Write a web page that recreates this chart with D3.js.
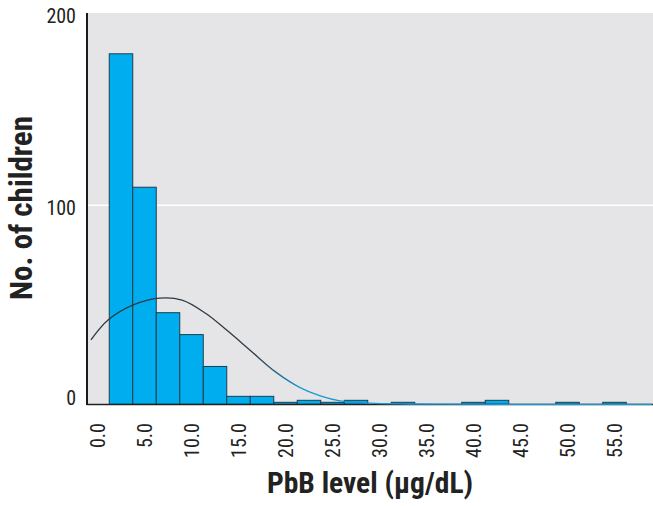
<!DOCTYPE html>
<html>
<head>
<meta charset="utf-8">
<script src="https://cdn.jsdelivr.net/npm/d3@7"></script>
<style>
  html, body { margin: 0; padding: 0; background: #fff; }
  svg { display: block; }
</style>
</head>
<body>
<svg id="chart" width="653" height="506"></svg>
<script>
// ---- data ----
const binCenters = [2.5, 5, 7.5, 10, 12.5, 15, 17.5, 20, 22.5, 25, 27.5, 30, 32.5, 35, 37.5, 40, 42.5, 45, 47.5, 50, 52.5, 55];
const counts     = [176, 109, 46, 35, 19, 4, 4, 1, 2, 1, 2, 0, 1, 0, 0, 1, 2, 0, 0, 1, 0, 1];
const binWidth = 2.5;
// fitted normal curve
const curveX = [-0.7, 1.15, 3.8, 6.6, 9.0, 11.5, 13.8, 16.2, 18.9, 21.5, 23.7, 25.8, 29, 32.2, 36, 45, 59];
const curveY = [32.3, 42.4, 49.9, 53.3, 52.3, 45.7, 37.0, 27.3, 16.4, 8.5, 4.2, 1.7, 0.6, 0.2, 0.05, 0, 0];
const xTicks = [0, 5, 10, 15, 20, 25, 30, 35, 40, 45, 50, 55];
const yTicks = [0, 100, 200];
const xTitle = "PbB level (\u03BCg/dL)";
const yTitle = "No. of children";

// ---- layout ----
const svg = d3.select("#chart");
const plotLeft = 87, plotRight = 653, plotTop = 13, plotBottom = 404;
const x = d3.scaleLinear().domain([0, 55]).range([97.5, 614.5]);
const y = d3.scaleLinear().domain([0, 200]).range([404.3, 6]);

const condensed = "'Liberation Sans Narrow', 'Arial Narrow', 'Roboto Condensed', 'Liberation Sans', sans-serif";

// background
svg.append("rect")
  .attr("x", plotLeft).attr("y", plotTop)
  .attr("width", plotRight - plotLeft).attr("height", plotBottom - plotTop)
  .attr("fill", "#e5e5e7");

// gridline at 100
svg.append("line")
  .attr("x1", plotLeft).attr("x2", plotRight)
  .attr("y1", y(100)).attr("y2", y(100))
  .attr("stroke", "#ffffff").attr("stroke-width", 1.5);

// bars
const bins = binCenters.map((c, i) => ({ c, n: counts[i] })).filter(d => d.n > 0);
svg.append("g").selectAll("rect").data(bins).join("rect")
  .attr("x", d => x(d.c - binWidth / 2))
  .attr("width", d => x(d.c + binWidth / 2) - x(d.c - binWidth / 2))
  .attr("y", d => y(d.n))
  .attr("height", d => y(0) - y(d.n))
  .attr("fill", "#00aeef")
  .attr("stroke", "#1d3d4e")
  .attr("stroke-width", 1);

// x baseline
svg.append("line")
  .attr("x1", plotLeft).attr("x2", plotRight)
  .attr("y1", plotBottom + 0.5).attr("y2", plotBottom + 0.5)
  .attr("stroke", "#222").attr("stroke-width", 1.6);

// normal curve with colour gradient (dark -> blue)
const defs = svg.append("defs");
const grad = defs.append("linearGradient").attr("id", "curveGrad")
  .attr("gradientUnits", "userSpaceOnUse")
  .attr("x1", 255).attr("x2", 300).attr("y1", 0).attr("y2", 0);
grad.append("stop").attr("offset", 0).attr("stop-color", "#2b3a44");
grad.append("stop").attr("offset", 1).attr("stop-color", "#1598d4");

const line = d3.line()
  .x(d => x(d[0]))
  .y(d => Math.min(y(d[1]), y(0)))
  .curve(d3.curveCatmullRom.alpha(0.5));
svg.append("path")
  .datum(curveX.map((v, i) => [v, curveY[i]]))
  .attr("d", line)
  .attr("fill", "none")
  .attr("stroke", "url(#curveGrad)")
  .attr("stroke-width", 1.3);

// y axis line
svg.append("line")
  .attr("x1", plotLeft).attr("x2", plotLeft)
  .attr("y1", plotTop).attr("y2", plotBottom + 1)
  .attr("stroke", "#1a1a1a").attr("stroke-width", 2);

// y axis labels
const yLabelShift = { 0: -7, 100: 2, 200: 9 };
const yAxis = d3.axisLeft(y).tickValues(yTicks).tickSize(0).tickPadding(0).tickFormat(d3.format("d"));
const gy = svg.append("g").attr("transform", "translate(76,0)").call(yAxis);
gy.select(".domain").remove();
gy.selectAll("text")
  .attr("font-family", condensed)
  .attr("font-size", 20)
  .attr("fill", "#222")
  .attr("dy", d => (yLabelShift[d] / 20 + 0.35) + "em")
  .attr("x", 0);

// x axis labels (rotated)
const xAxis = d3.axisBottom(x).tickValues(xTicks).tickSize(0).tickFormat(d3.format(".1f"));
const gx = svg.append("g").attr("transform", "translate(0,423)").call(xAxis);
gx.select(".domain").remove();
gx.selectAll("text")
  .attr("font-family", condensed)
  .attr("font-size", 20)
  .attr("fill", "#222")
  .attr("text-anchor", "end")
  .attr("dy", null)
  .attr("y", 0)
  .attr("x", 0)
  .attr("transform", "translate(7,0) rotate(-90)");

// axis titles
svg.append("text")
  .attr("x", 370).attr("y", 493)
  .attr("text-anchor", "middle")
  .attr("font-family", condensed)
  .attr("font-weight", "bold")
  .attr("font-size", 29.5)
  .attr("fill", "#222")
  .text(xTitle);

svg.append("text")
  .attr("transform", "translate(32,208) rotate(-90)")
  .attr("text-anchor", "middle")
  .attr("font-family", condensed)
  .attr("font-weight", "bold")
  .attr("font-size", 31)
  .attr("fill", "#222")
  .text(yTitle);
</script>
</body>
</html>
